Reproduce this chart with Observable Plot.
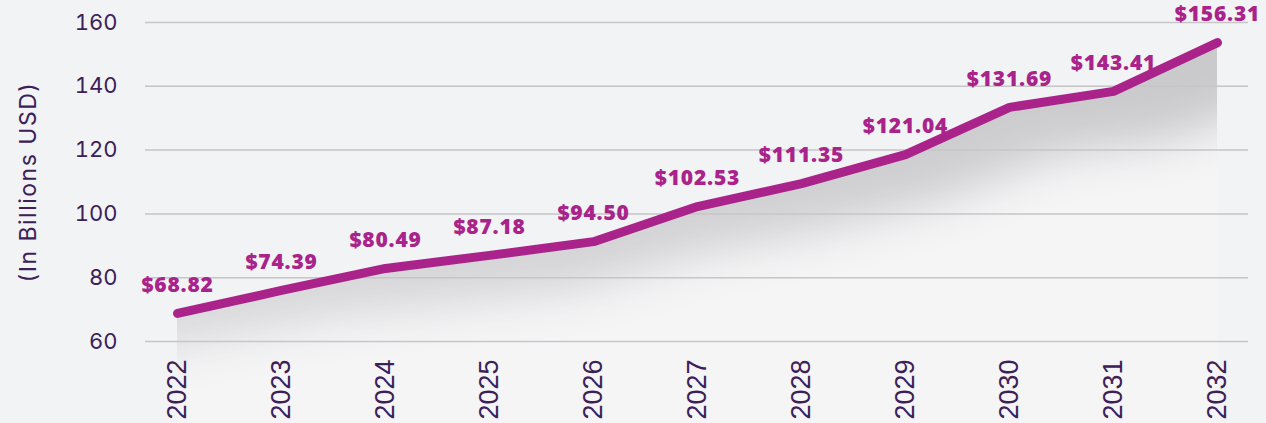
<!DOCTYPE html>
<html>
<head>
<meta charset="utf-8">
<script src="https://cdn.jsdelivr.net/npm/d3@7"></script>
<script src="https://cdn.jsdelivr.net/npm/@observablehq/plot@0.6"></script>
<style>
  html, body { margin: 0; padding: 0; background: #f2f3f5; }
  #chart svg { display: block; background: #f2f3f5; }
  .ytitle text { letter-spacing: 1.5px; }
  .vlabels text { letter-spacing: 0.8px; }
</style>
</head>
<body>
<div id="chart"></div>
<script>
const years = [2022, 2023, 2024, 2025, 2026, 2027, 2028, 2029, 2030, 2031, 2032];
const labelValues = [68.82, 74.39, 80.49, 87.18, 94.50, 102.53, 111.35, 121.04, 131.69, 143.41, 156.31];
const lineValues = [68.8, 76.0, 82.9, 87.0, 91.3, 102.3, 109.5, 118.6, 133.4, 138.4, 153.7];
const yTicks = [60, 80, 100, 120, 140, 160];
const yTitle = "(In Billions USD)";

const data = years.map((year, i) => ({year, line: lineValues[i], label: labelValues[i]}));
const fmt = d3.format("$.2f");

const purple = "#a9238b";
const textColor = "#3b2157";
const geo = "Inter, 'Open Sans', sans-serif";

const chart = Plot.plot({
  width: 1266,
  height: 423,
  marginLeft: 145,
  marginRight: 18,
  marginTop: 22,
  marginBottom: 82,
  style: {background: "#f2f3f5", fontFamily: geo, color: textColor},
  x: {type: "point", domain: years, padding: 0.3},
  y: {domain: [60, 160], ticks: yTicks},
  marks: [
    Plot.areaY(data, {x: "year", y1: 34, y2: "line", fill: "#f5f5f6"}),
    Plot.areaY(data, {x: "year", y1: 34, y2: "line", fill: "url(#areaGrad)", className: "shade-area"}),
    Plot.gridY(yTicks, {stroke: "#c6c6c9", strokeOpacity: 1, strokeWidth: 1.5}),
    Plot.axisY({ticks: yTicks, tickSize: 0, tickPadding: 28, fontSize: 22, label: null, fill: textColor}),
    Plot.axisX({tickRotate: -90, tickSize: 0, tickPadding: 18, fontSize: 27, label: null, tickFormat: d => `${d}`, fill: textColor, fontFamily: "'Liberation Sans', Arial, sans-serif"}),
    Plot.text([yTitle], {frameAnchor: "left", rotate: -90, dx: -117, fontSize: 23, fill: textColor, textAnchor: "middle", lineAnchor: "middle", className: "ytitle"}),
    Plot.line(data, {x: "year", y: "line", stroke: purple, strokeWidth: 9, strokeLinecap: "round", strokeLinejoin: "round"}),
    Plot.text(data, {x: "year", y: "line", text: d => fmt(d.label), dy: -28, fill: purple, fontSize: 21, fontWeight: 800, fontFamily: "'Open Sans', Inter, sans-serif", className: "vlabels"})
  ]
});

const svg = d3.select(chart);
const defs = svg.insert("defs", ":first-child");
const grad = defs.append("linearGradient").attr("id", "areaGrad")
  .attr("gradientUnits", "userSpaceOnUse")
  .attr("x1", 1250).attr("y1", 40).attr("x2", 150).attr("y2", 330);
grad.append("stop").attr("offset", "0%").attr("stop-color", "#c9c9cc");
grad.append("stop").attr("offset", "100%").attr("stop-color", "#dadadc");

const blur = defs.append("filter").attr("id", "fadeBlur")
  .attr("x", "-20%").attr("y", "-50%").attr("width", "140%").attr("height", "200%");
blur.append("feGaussianBlur").attr("stdDeviation", 22);

const shadePath = svg.select(".shade-area path");
const d = shadePath.attr("d");
const mask = defs.append("mask").attr("id", "fadeMask").attr("maskUnits", "userSpaceOnUse")
  .attr("x", 0).attr("y", 0).attr("width", 1266).attr("height", 423);
mask.append("path").attr("d", d).attr("fill", "white");
mask.append("path").attr("d", d).attr("fill", "black")
  .attr("transform", "translate(697,48) scale(1.15,1) translate(-697,0)")
  .attr("filter", "url(#fadeBlur)");
svg.select(".shade-area").attr("mask", "url(#fadeMask)");

document.getElementById("chart").appendChild(chart);
</script>
</body>
</html>
